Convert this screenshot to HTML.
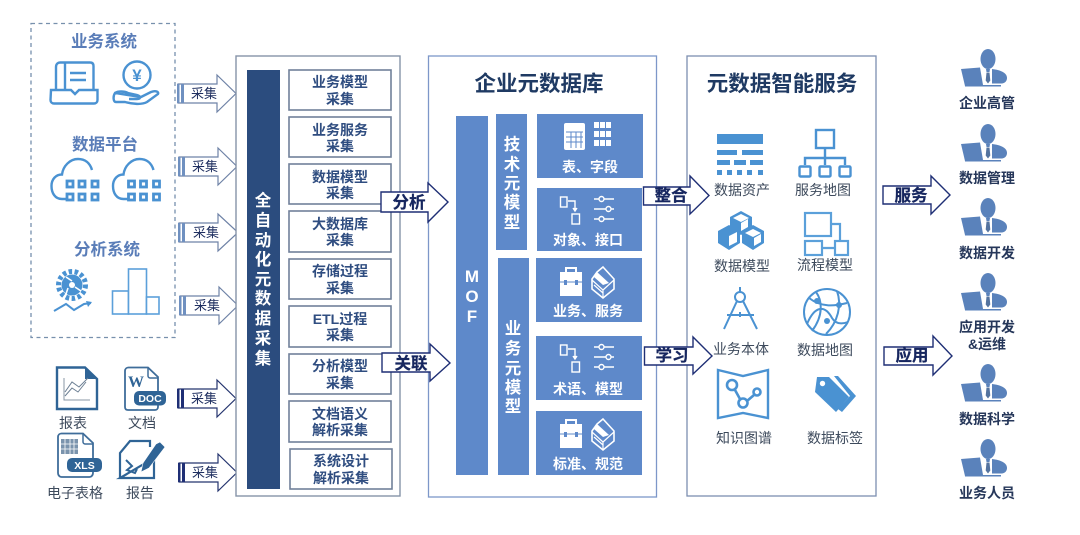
<!DOCTYPE html>
<html><head><meta charset="utf-8"><style>
html,body{margin:0;padding:0;background:#fff;width:1080px;height:535px;overflow:hidden}
svg{display:block;filter:blur(.35px)}
text{font-family:"Liberation Sans","Noto Sans CJK SC",sans-serif;text-anchor:middle}
.item{font-size:14px;font-weight:700;fill:#2f4d80}
.item2{fill:#fff;stroke:#71809a;stroke-width:1.6}
.cell{fill:#5e89ca}
.lab{font-size:14px;fill:#3d4a5c}
.cl{font-size:14px;font-weight:700;fill:#fff}
.vt{font-size:16.5px;font-weight:700;fill:#fff}
.pl{font-size:14px;font-weight:700;fill:#26375a}
.hd{font-size:16.5px;font-weight:700;fill:#5a7db8}
.cj{font-size:13px;fill:#1f2f60}
.ar{font-size:16.5px;font-weight:700;fill:#16265f;stroke:#16265f;stroke-width:.25}
.ti{font-size:21.5px;font-weight:700;fill:#1f3a63}
.ic{fill:none;stroke:#4a92d2;stroke-width:2.4}
.if{fill:#4a92d2}
</style></head><body>
<svg width="1080" height="535" viewBox="0 0 1080 535" xmlns="http://www.w3.org/2000/svg">
<defs>
<g id="person">
<ellipse cx="988" cy="59" rx="7.500" ry="10" fill="#5a82bb"/>
<path d="M961 69L980 67.500L983 85L965 86Z" fill="#5a82bb"/>
<path d="M965 85H1001V86.500H965Z" fill="#5a82bb"/>
<path d="M992 69C1001 70 1007 73 1007 78C1007 81 1005 83 1002 83.500H992Z" fill="#5a82bb"/>
<path d="M986 69h4l-.5 3h-3z" fill="#5a82bb"/>
<path d="M986.500 72.500h3l.8 8-2.300 3-2.300-3z" fill="#54739f"/>
</g>
<g id="cloud">
<path d="M66 199H62C55 199 51.500 193 51.500 186C51.500 179 56 174.500 62 174.500C63 166 70 159 78 159C85 159 90 163 92 170" class="ic" stroke-width="2.800"/>
<g fill="none" stroke="#4a92d2" stroke-width="2.800">
<rect x="67" y="181" width="6" height="6"/><rect x="79" y="181" width="6" height="6"/><rect x="92" y="181" width="6" height="6"/>
<rect x="67" y="194" width="6" height="6"/><rect x="79" y="194" width="6" height="6"/><rect x="92" y="194" width="6" height="6"/>
</g>
</g>
<g id="tbl">
<rect x="564" y="123" width="21" height="27" rx="2" fill="#fff"/>
<path d="M566 132h17M566 137h17M566 142h17M571 132v16M576 132v16M581 132v16" stroke="#5e89ca" stroke-width="1"/>
<g fill="#fff"><rect x="594" y="122" width="5" height="6"/><rect x="600" y="122" width="5" height="6"/><rect x="606" y="122" width="5" height="6"/><rect x="594" y="131" width="5" height="6"/><rect x="600" y="131" width="5" height="6"/><rect x="606" y="131" width="5" height="6"/><rect x="594" y="140" width="5" height="6"/><rect x="600" y="140" width="5" height="6"/><rect x="606" y="140" width="5" height="6"/></g>
</g>
<g id="conn" fill="none" stroke="#fff" stroke-width="1.400">
<rect x="560.500" y="197" width="6.500" height="10"/>
<path d="M568 201h7v9"/><path d="M573 208l2 3 2-3" fill="#fff"/>
<rect x="572" y="214" width="7.500" height="10"/>
<path d="M594 199h5M604 199h10M594 209h12M611 209h3M594 219h5M604 219h10"/>
<circle cx="601.500" cy="199" r="2.500"/><circle cx="608.500" cy="209" r="2.500"/><circle cx="601.500" cy="219" r="2.500"/>
</g>
<g id="case">
<path d="M566 272v-4h10v4" fill="none" stroke="#fff" stroke-width="2"/>
<rect x="560" y="272" width="22" height="24" fill="#fff"/>
<path d="M560 282h22" stroke="#5e89ca" stroke-width="1"/>
<rect x="564" y="280" width="3" height="5" fill="#5e89ca"/><rect x="575" y="280" width="3" height="5" fill="#5e89ca"/>
<path d="M603 267L614 279V289L603 298L592 289V279L597 272Z" fill="none" stroke="#fff" stroke-width="1.600"/>
<path d="M597 272L609 283L603 285L594 277Z" fill="#fff"/>
<path d="M592 280L603 290V298M603 290L614 280M594 285l9 8" fill="none" stroke="#fff" stroke-width="1.200"/>
</g>
</defs>

<!-- left dashed box -->
<rect x="31" y="23.500" width="144" height="314" fill="#fff" stroke="#7790ad" stroke-width="1.300" stroke-dasharray="4 3.500"/>
<text class="hd" x="104" y="47">业务系统</text>
<text class="hd" x="105" y="150">数据平台</text>
<text class="hd" x="107" y="255">分析系统</text>

<!-- tray icon -->
<path d="M56 90V67C56 64 58 62.500 60 62.500H90C92.500 62.500 93.500 64 93.500 66V90" class="ic" stroke-width="3.200"/>
<path d="M65 63V90" class="ic"/>
<path d="M70 73h16M70 80h16" class="ic" stroke-width="2.800"/>
<path d="M51 90H71L75 94L79 90H97.500V100C97.500 102 96 103.500 94 103.500H54C52 103.500 50.500 102 50.500 100Z" class="ic" stroke-width="3.200"/>
<!-- yen icon -->
<circle cx="137" cy="75" r="13.500" class="ic" stroke-width="3"/>
<text x="137" y="81" style="font-size:17px;font-weight:700;fill:#4a92d2">¥</text>
<path d="M115 93C118 91 124 91 128 93L137 95C141 96 141 99 137 99H129M141 97L151 92C156 90 159 92 158 94L147 102C142 105 132 104 125 102H116C113 102 113 96 115 93Z" class="ic" stroke-width="2.800"/>
<!-- clouds -->
<use href="#cloud"/>
<use href="#cloud" x="61.500"/>
<!-- gear -->
<circle cx="72" cy="285" r="13.500" fill="none" stroke="#4a92d2" stroke-width="5" stroke-dasharray="3.500 2.500"/>
<circle cx="72" cy="285" r="10.500" fill="#4a92d2"/>
<circle cx="72" cy="285" r="3" fill="#fff"/>
<path d="M72 281L66 277M75 287L81 291M68 288L66 294" stroke="#fff" stroke-width="1.600"/>
<path d="M54 311L66 304L74 310L84 304L91 303" fill="none" stroke="#4a92d2" stroke-width="2"/>
<path d="M92 302L86 301L88 307Z" fill="#4a92d2"/>
<!-- bars -->
<g fill="#fff" stroke="#5ba0da" stroke-width="1.600">
<rect x="112.500" y="291" width="16" height="23"/>
<rect x="128.500" y="269" width="18" height="45"/>
<rect x="146.500" y="297" width="12.500" height="17"/>
</g>

<!-- lower left docs -->
<path d="M57 367.500H85L97 379V409H57Z" fill="#fff" stroke="#2f6496" stroke-width="2.400"/>
<path d="M85 367V379H97Z" fill="#2f6496"/>
<path d="M64 378V400H90" fill="none" stroke="#8a97a6" stroke-width="1"/>
<path d="M65 396L72 388L78 392L86 382M65 392L72 382L79 387L88 378" fill="none" stroke="#6c7f93" stroke-width="1"/>
<text class="lab" x="73" y="428">报表</text>

<path d="M125 371C125 369 126.500 367.500 128.500 367.500H148L158 377V407C158 409 156.500 410 155 410H128C126 410 125 409 125 407Z" fill="#fff" stroke="#3f6d9a" stroke-width="1.800"/>
<path d="M148 368V376C148 377 149 378 150 378H158" fill="none" stroke="#3f6d9a" stroke-width="1.500"/>
<text x="136" y="387" style="font-size:16px;font-weight:700;fill:#2f6496;font-family:'Liberation Serif',serif">W</text>
<rect x="134" y="391" width="32" height="14.500" rx="5" fill="#2f6496"/>
<text x="150" y="402" style="font-size:10.500px;font-weight:700;fill:#fff">DOC</text>
<text class="lab" x="142" y="428">文档</text>

<path d="M58 437C58 435 59.500 433.500 61.500 433.500H83L93 443V473C93 475 91.500 477 89.500 477H61.500C59.500 477 58 475 58 473Z" fill="#fff" stroke="#3f6d9a" stroke-width="1.800"/>
<path d="M83 434V442C83 443 84 444 85 444H93" fill="none" stroke="#3f6d9a" stroke-width="1.500"/>
<rect x="61" y="439" width="17" height="15" fill="#7b94ad"/>
<path d="M61 444h17M61 449h17M65 439v15M70 439v15M74 439v15" stroke="#fff" stroke-width=".8"/>
<rect x="67" y="458" width="35" height="14" rx="5" fill="#2f6496"/>
<text x="84.500" y="469" style="font-size:10.500px;font-weight:700;fill:#fff">XLS</text>
<text class="lab" x="75" y="498">电子表格</text>

<path d="M120 478V453L130 441H150V447M154 458V478H120Z" fill="none" stroke="#2f6496" stroke-width="2.200"/>
<path d="M160 442L165 447L149 468L141 472L143 463L156 444Z" fill="#2f6496" stroke="#fff" stroke-width=".6"/>
<path d="M126 460L132 466L127 470L135 473L137 469" fill="none" stroke="#2f6496" stroke-width="2"/>
<text class="lab" x="140" y="498">报告</text>

<!-- collect arrows -->
<g fill="#fff" stroke="#6e82a6" stroke-width="1.200">
<path d="M178 84H217V75L236 93.500L217 112V103H178Z"/>
<path d="M179 157H218V148L237 166.500L218 185V176H179Z"/>
<path d="M179 223H218V214L238 232.500L218 251V242H179Z"/>
<path d="M180 296H219V287L238 305.500L219 324V315H180Z"/>
</g>
<g fill="#fff" stroke="#24346e" stroke-width="1.200">
<path d="M178 389H217V380L236 398.500L217 417V408H178Z"/>
<path d="M179 463H218V454L237 472.500L218 491V482H179Z"/>
</g>
<g fill="#6f90c0">
<rect x="177" y="84" width="2.500" height="19"/><rect x="181" y="84" width="3" height="19"/>
<rect x="178" y="157" width="2.500" height="19"/><rect x="182" y="157" width="3" height="19"/>
<rect x="178" y="223" width="2.500" height="19"/><rect x="182" y="223" width="3" height="19"/>
<rect x="179" y="296" width="2.500" height="19"/><rect x="183" y="296" width="3" height="19"/>
</g>
<g fill="#1f2f75">
<rect x="177" y="389" width="2.500" height="19"/><rect x="181" y="389" width="3" height="19"/>
<rect x="178" y="463" width="2.500" height="19"/><rect x="182" y="463" width="3" height="19"/>
</g>
<text class="cj" x="204" y="98">采集</text>
<text class="cj" x="205" y="171">采集</text>
<text class="cj" x="206" y="237">采集</text>
<text class="cj" x="207" y="310">采集</text>
<text class="cj" x="204" y="403">采集</text>
<text class="cj" x="205" y="477">采集</text>

<!-- collection panel -->
<rect x="236" y="56" width="164" height="440" fill="#fff" stroke="#8693a8" stroke-width="1.400"/>
<rect x="247" y="70" width="33" height="419" fill="#2b4c7e"/>
<text class="vt" x="263" y="206">全</text><text class="vt" x="263" y="226">自</text><text class="vt" x="263" y="246">动</text><text class="vt" x="263" y="265">化</text><text class="vt" x="263" y="285">元</text><text class="vt" x="263" y="304">数</text><text class="vt" x="263" y="324">据</text><text class="vt" x="263" y="344">采</text><text class="vt" x="263" y="364">集</text>
<rect class="item2" x="289" y="70" width="102" height="40"/>
<rect class="item2" x="289" y="117" width="102" height="40"/>
<rect class="item2" x="289" y="164" width="102" height="40"/>
<rect class="item2" x="289" y="211" width="102" height="41"/>
<rect class="item2" x="289" y="259" width="102" height="40"/>
<rect class="item2" x="289" y="306" width="102" height="41"/>
<rect class="item2" x="289" y="354" width="102" height="40"/>
<rect class="item2" x="289" y="401" width="102" height="41"/>
<rect class="item2" x="290" y="449" width="102" height="40"/>
<text class="item" x="340" y="87">业务模型</text><text class="item" x="340" y="104">采集</text>
<text class="item" x="340" y="135">业务服务</text><text class="item" x="340" y="151">采集</text>
<text class="item" x="340" y="182">数据模型</text><text class="item" x="340" y="198">采集</text>
<text class="item" x="340" y="229">大数据库</text><text class="item" x="340" y="245">采集</text>
<text class="item" x="340" y="276">存储过程</text><text class="item" x="340" y="293">采集</text>
<text class="item" x="340" y="324">ETL过程</text><text class="item" x="340" y="340">采集</text>
<text class="item" x="340" y="371">分析模型</text><text class="item" x="340" y="388">采集</text>
<text class="item" x="340" y="419">文档语义</text><text class="item" x="340" y="435">解析采集</text>
<text class="item" x="341" y="466">系统设计</text><text class="item" x="341" y="483">解析采集</text>

<!-- repository panel -->
<rect x="428.500" y="56" width="228" height="441" fill="#fff" stroke="#7d97c9" stroke-width="1.300"/>
<text class="ti" x="539" y="91">企业元数据库</text>
<rect class="cell" x="456" y="116" width="32" height="359"/>
<text x="472" y="282" style="font-size:17px;font-weight:700;fill:#fff">M</text>
<text x="472" y="302" style="font-size:17px;font-weight:700;fill:#fff">O</text>
<text x="472" y="322" style="font-size:17px;font-weight:700;fill:#fff">F</text>
<rect class="cell" x="496" y="114" width="31" height="136"/>
<rect class="cell" x="498" y="258" width="31" height="217"/>
<text class="vt" x="512" y="150">技</text><text class="vt" x="512" y="170">术</text><text class="vt" x="512" y="189">元</text><text class="vt" x="512" y="208">模</text><text class="vt" x="512" y="228">型</text>
<text class="vt" x="513" y="334">业</text><text class="vt" x="513" y="354">务</text><text class="vt" x="513" y="374">元</text><text class="vt" x="513" y="393">模</text><text class="vt" x="513" y="412">型</text>
<rect class="cell" x="537" y="114" width="106" height="64"/>
<rect class="cell" x="537" y="188" width="105" height="63"/>
<rect class="cell" x="536" y="258" width="106" height="64"/>
<rect class="cell" x="536" y="336" width="106" height="64"/>
<rect class="cell" x="536" y="411" width="106" height="64"/>
<use href="#tbl"/>
<text class="cl" x="590" y="172">表、字段</text>
<use href="#conn"/>
<text class="cl" x="588" y="245">对象、接口</text>
<use href="#case"/>
<text class="cl" x="588" y="316">业务、服务</text>
<use href="#conn" y="148"/>
<text class="cl" x="588" y="394">术语、模型</text>
<use href="#case" y="152"/>
<text class="cl" x="588" y="469">标准、规范</text>

<!-- service panel -->
<rect x="687" y="56" width="189" height="440" fill="#fff" stroke="#7d8fb0" stroke-width="1.300"/>
<text class="ti" x="782" y="91">元数据智能服务</text>

<!-- data asset -->
<g class="if">
<rect x="717" y="134" width="46" height="10"/>
<rect x="717" y="150" width="20" height="5"/><rect x="742" y="150" width="21" height="5"/>
<rect x="717" y="160" width="13" height="5"/><rect x="734" y="160" width="12" height="5"/><rect x="750" y="160" width="13" height="5"/>
<rect x="717" y="170" width="5" height="5"/><rect x="727" y="170" width="5" height="5"/><rect x="737" y="170" width="5" height="5"/><rect x="747" y="170" width="5" height="5"/><rect x="758" y="170" width="5" height="5"/>
</g>
<text class="lab" x="742" y="195">数据资产</text>
<!-- service map -->
<rect x="816" y="130" width="18" height="18" class="ic" stroke-width="3"/>
<path d="M825 148V158M805 165V158H845V165M825 158V165" class="ic" stroke-width="2"/>
<g class="ic" stroke-width="3.500"><rect x="799.500" y="166.500" width="11" height="10" rx="1"/><rect x="819.500" y="166.500" width="11" height="10" rx="1"/><rect x="839.500" y="166.500" width="11" height="10" rx="1"/></g>
<text class="lab" x="823" y="195">服务地图</text>
<!-- cubes -->
<g class="if">
<path d="M741 211L752 217V229L741 235L730 229V217Z"/>
<path d="M729 225L740 231V243L729 250L718 243V231Z"/>
<path d="M753 225L764 231V243L753 250L742 243V231Z"/>
</g>
<g fill="#fff"><path d="M741 214L749 218L741 222L733 218Z"/><path d="M753 229L761 233L753 237L745 233Z"/><path d="M729 236L737 232V242L729 246Z"/><path d="M741 223v8l7-4v-8z"/><path d="M754 238v8l7-4v-8z"/></g>
<text class="lab" x="742" y="271">数据模型</text>
<!-- process model -->
<g fill="none" stroke="#5ba0da" stroke-width="2.200">
<rect x="805" y="213" width="26" height="23"/>
<rect x="805" y="241" width="17" height="14"/>
<rect x="835" y="241" width="13" height="14"/>
<path d="M831 224H840V241M822 248H835"/>
</g>
<text class="lab" x="825" y="270">流程模型</text>
<!-- compass -->
<g fill="none" stroke="#4a92d2" stroke-width="2">
<circle cx="740" cy="297" r="5"/>
<path d="M740 287V292M737 301L724 329M743 301L757 329M727 315H754M740 312V317"/>
</g>
<text class="lab" x="741" y="354">业务本体</text>
<!-- globe -->
<g fill="none" stroke="#4a92d2" stroke-width="2">
<circle cx="827" cy="312" r="23"/>
<path d="M807 324C815 305 825 305 832 318C835 323 840 325 848 322M816 292C822 300 824 315 812 331M837 291C842 305 838 322 826 334M809 298C822 308 835 306 847 303"/>
</g>
<circle cx="817" cy="301" r="3" class="if"/><circle cx="839" cy="305" r="3" class="if"/><circle cx="827" cy="321" r="3" class="if"/>
<text class="lab" x="825" y="355">数据地图</text>
<!-- knowledge map -->
<path d="M718 370L743 376L768 370V418L743 413L718 418Z" class="ic" stroke-width="3"/>
<g fill="none" stroke="#4a92d2" stroke-width="2.600">
<circle cx="732" cy="385" r="5"/><circle cx="743" cy="403" r="4.500"/><circle cx="757" cy="392" r="3.500"/>
<path d="M735 390L740 399M747 401L754 395"/>
</g>
<text class="lab" x="744" y="443">知识图谱</text>
<!-- tags -->
<path d="M817 377H829L849 397L836 412L815 392Z" fill="#4a92d2"/>
<circle cx="822.500" cy="383.500" r="2.700" fill="#fff"/>
<path d="M834 376H838L856 396L842 412L838 409L850 396Z" fill="#4a92d2"/>
<text class="lab" x="835" y="443">数据标签</text>

<!-- bold arrows -->
<g fill="#fff" stroke="#1f2f75" stroke-width="1.400">
<path d="M381 192H428V183L448 202L428 222V212H381Z"/>
<path d="M382 353H430V344L450 363L430 381V372H382Z"/>
<path d="M643.500 187H690V176L709 195.500L690 214V205H643.500Z"/>
<path d="M644.500 347H693V337L712 356L693 374V365H644.500Z"/>
<path d="M883 186H931V176L950 195L931 214V204H883Z"/>
<path d="M884 347H933V336L952 356L933 375V365H884Z"/>
</g>
<text class="ar" x="409" y="208">分析</text>
<text class="ar" x="411" y="369">关联</text>
<text class="ar" x="671" y="201">整合</text>
<text class="ar" x="672" y="361">学习</text>
<text class="ar" x="911" y="201">服务</text>
<text class="ar" x="912" y="361">应用</text>

<!-- persons -->
<use href="#person"/>
<use href="#person" y="75"/>
<use href="#person" y="149"/>
<use href="#person" y="224"/>
<use href="#person" y="315"/>
<use href="#person" y="390"/>
<text class="pl" x="987" y="108">企业高管</text>
<text class="pl" x="987" y="183">数据管理</text>
<text class="pl" x="987" y="258">数据开发</text>
<text class="pl" x="987" y="332">应用开发</text>
<text class="pl" x="987" y="349">&amp;运维</text>
<text class="pl" x="987" y="424">数据科学</text>
<text class="pl" x="987" y="498">业务人员</text>
</svg>
</body></html>
